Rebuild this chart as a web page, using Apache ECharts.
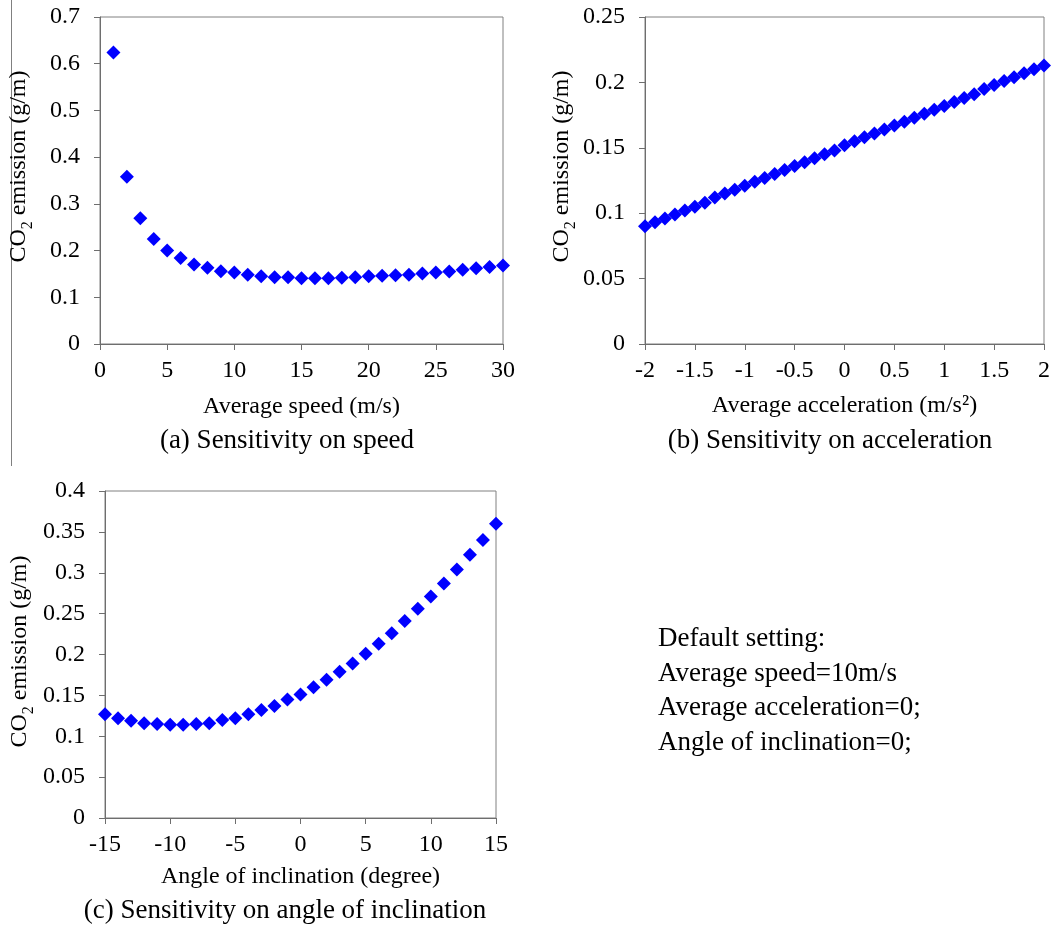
<!DOCTYPE html>
<html><head><meta charset="utf-8">
<script src="https://cdn.jsdelivr.net/npm/echarts@6/dist/echarts.min.js"></script>
<style>html,body{margin:0;padding:0;background:#fff}#c{width:1054px;height:928px}</style>
</head><body><div id="c"></div>
<script>
// (a) speed sensitivity
const speedX = [1,2,3,4,5,6,7,8,9,10,11,12,13,14,15,16,17,18,19,20,21,22,23,24,25,26,27,28,29,30];
const speedCO2 = [0.624,0.358,0.269,0.225,0.200,0.184,0.170,0.163,0.156,0.153,0.148,0.145,0.143,0.143,0.141,0.141,0.141,0.142,0.143,0.145,0.146,0.147,0.148,0.151,0.153,0.155,0.159,0.162,0.165,0.168];
// (b) acceleration sensitivity
const accelX = [-2,-1.9,-1.8,-1.7,-1.6,-1.5,-1.4,-1.3,-1.2,-1.1,-1,-0.9,-0.8,-0.7,-0.6,-0.5,-0.4,-0.3,-0.2,-0.1,0,0.1,0.2,0.3,0.4,0.5,0.6,0.7,0.8,0.9,1,1.1,1.2,1.3,1.4,1.5,1.6,1.7,1.8,1.9,2];
const accelCO2 = [0.090,0.093,0.096,0.099,0.102,0.105,0.108,0.112,0.115,0.118,0.121,0.124,0.127,0.130,0.133,0.136,0.139,0.142,0.145,0.148,0.152,0.155,0.158,0.161,0.164,0.167,0.170,0.173,0.176,0.179,0.182,0.185,0.188,0.191,0.195,0.198,0.201,0.204,0.207,0.210,0.213];
// (c) inclination sensitivity
const angleX = [-15,-14,-13,-12,-11,-10,-9,-8,-7,-6,-5,-4,-3,-2,-1,0,1,2,3,4,5,6,7,8,9,10,11,12,13,14,15];
const angleCO2 = [0.127,0.122,0.119,0.116,0.115,0.114,0.114,0.115,0.116,0.120,0.122,0.127,0.132,0.137,0.145,0.151,0.160,0.169,0.179,0.189,0.201,0.213,0.226,0.241,0.256,0.271,0.287,0.304,0.322,0.340,0.360];

const xTitles = ['Average speed (m/s)', 'Average acceleration (m/s\u00B2)', 'Angle of inclination (degree)'];
const captions = ['(a) Sensitivity on speed', '(b) Sensitivity on acceleration', '(c) Sensitivity on angle of inclination'];
const noteLines = ['Default setting:', 'Average speed=10m/s', 'Average acceleration=0;', 'Angle of inclination=0;'];

const FONT = '"Liberation Serif","Times New Roman",serif';
const AXC = '#6e6e6e';

function xAxisCfg(idx, min, max, interval, name, gap) {
  return {
    type: 'value', gridIndex: idx, min, max, interval,
    name, nameLocation: 'middle', nameGap: gap,
    nameTextStyle: { fontFamily: FONT, fontSize: 24, color: '#000' },
    axisLine: { show: true, onZero: false, lineStyle: { color: AXC, width: 1 } },
    axisTick: { show: true, inside: false, length: 6, lineStyle: { color: AXC } },
    axisLabel: { fontFamily: FONT, fontSize: 24, color: '#000', margin: 15, showMinLabel: true, showMaxLabel: true, hideOverlap: false },
    splitLine: { show: false }
  };
}
function yAxisCfg(idx, min, max, interval, gap, pad) {
  return {
    type: 'value', gridIndex: idx, min, max, interval,
    name: '{a|CO}{s|2}{a| emission (g/m)}', nameLocation: 'middle', nameGap: gap,
    nameTextStyle: {
      fontFamily: FONT, fontSize: 24, color: '#000', padding: pad,
      rich: {
        a: { fontFamily: FONT, fontSize: 24, color: '#000', verticalAlign: 'bottom', padding: [0,0,5,0] },
        s: { fontFamily: FONT, fontSize: 16, color: '#000', verticalAlign: 'bottom' }
      }
    },
    axisLine: { show: true, onZero: false, lineStyle: { color: AXC, width: 1 } },
    axisTick: { show: true, inside: false, length: 6, lineStyle: { color: AXC } },
    axisLabel: { fontFamily: FONT, fontSize: 24, color: '#000', margin: 20, showMinLabel: true, showMaxLabel: true },
    splitLine: { show: false }
  };
}
function series(idx, xs, ys) {
  return {
    type: 'scatter', xAxisIndex: idx, yAxisIndex: idx,
    symbol: 'diamond', symbolSize: 14,
    itemStyle: { color: '#0000ff', opacity: 1 },
    data: xs.map((v, i) => [v, ys[i]])
  };
}

const chart = echarts.init(document.getElementById('c'), null, { renderer: 'canvas' });
chart.setOption({
  animation: false,
  backgroundColor: '#fff',
  grid: [
    { left: 100, top: 17, width: 403, height: 327, show: true, borderColor: '#808080', borderWidth: 1 },
    { left: 645, top: 17, width: 399, height: 327, show: true, borderColor: '#808080', borderWidth: 1 },
    { left: 105, top: 491, width: 391, height: 327, show: true, borderColor: '#808080', borderWidth: 1 }
  ],
  xAxis: [
    xAxisCfg(0, 0, 30, 5, xTitles[0], 51),
    xAxisCfg(1, -2, 2, 0.5, xTitles[1], 50),
    xAxisCfg(2, -15, 15, 5, xTitles[2], 47)
  ],
  yAxis: [
    yAxisCfg(0, 0, 0.7, 0.1, 64, [0,0,0,28]),
    yAxisCfg(1, 0, 0.25, 0.05, 60, [0,0,0,28]),
    yAxisCfg(2, 0, 0.4, 0.05, 68, [0,0,0,6])
  ],
  series: [
    series(0, speedX, speedCO2),
    series(1, accelX, accelCO2),
    series(2, angleX, angleCO2)
  ],
  graphic: [
    { type: 'line', shape: { x1: 11.5, y1: 0, x2: 11.5, y2: 466 }, style: { stroke: '#808080', lineWidth: 1 } },
    { type: 'text', x: 287, y: 441, style: { text: captions[0], font: '27px ' + FONT, fill: '#000', textAlign: 'center', textVerticalAlign: 'middle' } },
    { type: 'text', x: 830, y: 441, style: { text: captions[1], font: '27px ' + FONT, fill: '#000', textAlign: 'center', textVerticalAlign: 'middle' } },
    { type: 'text', x: 285, y: 911, style: { text: captions[2], font: '27px ' + FONT, fill: '#000', textAlign: 'center', textVerticalAlign: 'middle' } },
    { type: 'text', left: 658, top: 622, style: { text: noteLines.join('\n'), font: '27px ' + FONT, lineHeight: 34.5, fill: '#000' } }
  ]
});
</script></body></html>
